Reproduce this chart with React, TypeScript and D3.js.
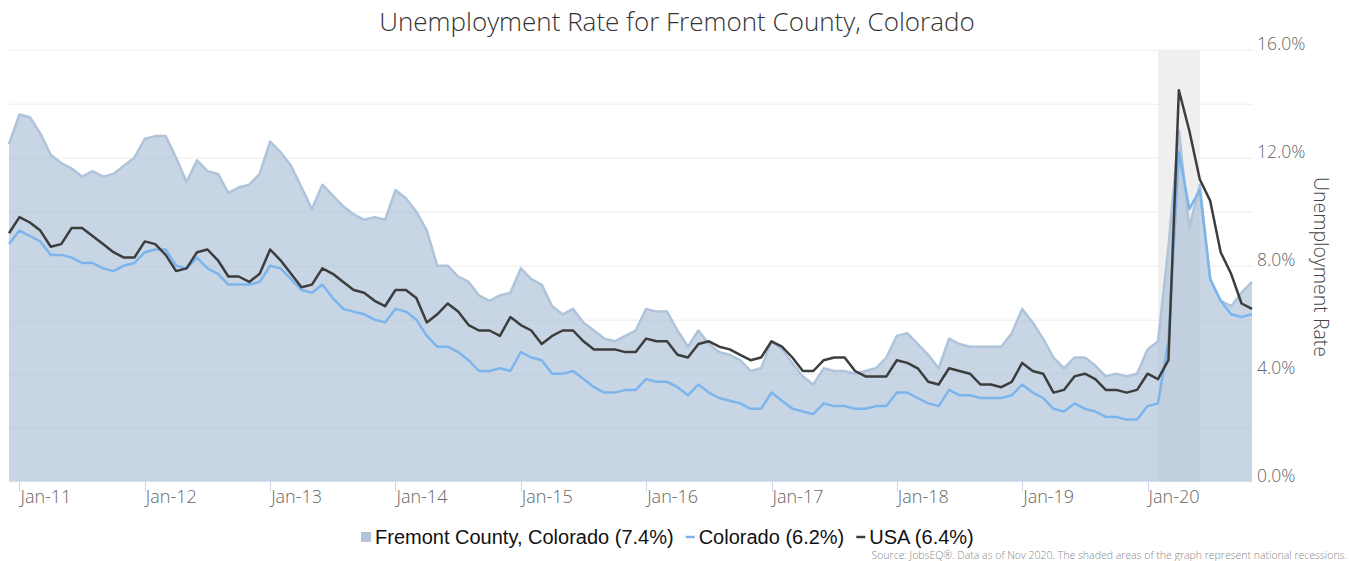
import React, { useEffect, useRef } from "react";
import * as d3 from "d3";

// monthly series, Dec 2010 .. Nov 2020
const months = d3
  .timeMonth.range(new Date(2010, 11, 1), new Date(2020, 11, 1))
  .map(d3.timeFormat("%Y-%m"));

const fremont = [
  12.5, 13.6, 13.5, 12.9, 12.1, 11.8, 11.6, 11.3, 11.5, 11.3, 11.4, 11.7,
  12.0, 12.7, 12.8, 12.8, 12.0, 11.1, 11.9, 11.5, 11.4, 10.7, 10.9, 11.0,
  11.4, 12.6, 12.2, 11.7, 10.9, 10.1, 11.0, 10.6, 10.2, 9.9, 9.7, 9.8,
  9.7, 10.8, 10.5, 10.0, 9.3, 8.0, 8.0, 7.6, 7.4, 6.9, 6.7, 6.9,
  7.0, 7.9, 7.5, 7.3, 6.5, 6.2, 6.4, 5.9, 5.6, 5.3, 5.2, 5.4,
  5.6, 6.4, 6.3, 6.3, 5.6, 5.0, 5.6, 5.1, 4.8, 4.7, 4.5, 4.1,
  4.2, 5.2, 4.9, 4.4, 3.9, 3.6, 4.2, 4.1, 4.1, 4.0, 4.1, 4.2,
  4.6, 5.4, 5.5, 5.1, 4.7, 4.2, 5.3, 5.1, 5.0, 5.0, 5.0, 5.0,
  5.5, 6.4, 5.9, 5.3, 4.6, 4.2, 4.6, 4.6, 4.3, 3.9, 4.0, 3.9,
  4.0, 4.9, 5.2, 8.7, 13.0, 9.4, 11.0, 7.5, 6.7, 6.5, 7.0, 7.4,
];

const colorado = [
  8.8, 9.3, 9.1, 8.9, 8.4, 8.4, 8.3, 8.1, 8.1, 7.9, 7.8, 8.0,
  8.1, 8.5, 8.6, 8.6, 8.0, 7.9, 8.3, 7.9, 7.7, 7.3, 7.3, 7.3,
  7.4, 8.0, 7.9, 7.5, 7.1, 7.0, 7.3, 6.8, 6.4, 6.3, 6.2, 6.0,
  5.9, 6.4, 6.3, 6.0, 5.4, 5.0, 5.0, 4.8, 4.5, 4.1, 4.1, 4.2,
  4.1, 4.8, 4.6, 4.5, 4.0, 4.0, 4.1, 3.8, 3.5, 3.3, 3.3, 3.4,
  3.4, 3.8, 3.7, 3.7, 3.5, 3.2, 3.6, 3.3, 3.1, 3.0, 2.9, 2.7,
  2.7, 3.3, 3.0, 2.7, 2.6, 2.5, 2.9, 2.8, 2.8, 2.7, 2.7, 2.8,
  2.8, 3.3, 3.3, 3.1, 2.9, 2.8, 3.4, 3.2, 3.2, 3.1, 3.1, 3.1,
  3.2, 3.6, 3.3, 3.1, 2.7, 2.6, 2.9, 2.7, 2.6, 2.4, 2.4, 2.3,
  2.3, 2.8, 2.9, 5.2, 12.2, 10.1, 10.8, 7.5, 6.7, 6.2, 6.1, 6.2,
];

const usa = [
  9.2, 9.8, 9.6, 9.3, 8.7, 8.8, 9.4, 9.4, 9.1, 8.8, 8.5, 8.3,
  8.3, 8.9, 8.8, 8.4, 7.8, 7.9, 8.5, 8.6, 8.2, 7.6, 7.6, 7.4,
  7.7, 8.6, 8.2, 7.7, 7.2, 7.3, 7.9, 7.7, 7.4, 7.1, 7.0, 6.7,
  6.5, 7.1, 7.1, 6.8, 5.9, 6.2, 6.6, 6.3, 5.8, 5.6, 5.6, 5.4,
  6.1, 5.8, 5.6, 5.1, 5.4, 5.6, 5.6, 5.2, 4.9, 4.9, 4.9, 4.8,
  4.8, 5.3, 5.2, 5.2, 4.7, 4.6, 5.1, 5.2, 5.0, 4.9, 4.7, 4.5,
  4.6, 5.2, 5.0, 4.6, 4.1, 4.1, 4.5, 4.6, 4.6, 4.1, 3.9, 3.9,
  3.9, 4.5, 4.4, 4.2, 3.7, 3.6, 4.2, 4.1, 4.0, 3.6, 3.6, 3.5,
  3.7, 4.4, 4.1, 4.0, 3.3, 3.4, 3.9, 4.0, 3.8, 3.4, 3.4, 3.3,
  3.4, 4.0, 3.8, 4.5, 14.5, 13.0, 11.2, 10.4, 8.5, 7.7, 6.6, 6.4,
];

const yTicks = [0, 4, 8, 12, 16];
const gridTicks = [2, 4, 6, 8, 10, 12, 14, 16];
const recession = ["2020-02", "2020-06"];

const legendItems = [
  { label: "Fremont County, Colorado (7.4%)", kind: "area" },
  { label: "Colorado (6.2%)", kind: "line", color: "#7cb5ec" },
  { label: "USA (6.4%)", kind: "line", color: "#3d3d3d" },
];

const W = 1349;
const H = 561;
const FONT = "'Open Sans', 'DejaVu Sans', sans-serif";

export default function App() {
  const ref = useRef(null);

  useEffect(() => {
    const root = d3.select(ref.current);
    root.selectAll("*").remove();

    const x = d3.scalePoint().domain(months).range([9, 1252]);
    const y = d3.scaleLinear().domain([0, 16]).range([481.7, 49.7]);

    const svg = root
      .append("svg")
      .attr("width", W)
      .attr("height", H)
      .style("position", "absolute")
      .style("left", 0)
      .style("top", 0)
      .style("font-family", FONT);

    // title
    svg
      .append("text")
      .attr("x", 677)
      .attr("y", 31)
      .attr("text-anchor", "middle")
      .attr("font-size", 26)
      .attr("font-weight", 300)
      .attr("fill", "#333")
      .text("Unemployment Rate for Fremont County, Colorado");

    // grid
    svg
      .append("g")
      .selectAll("line")
      .data(gridTicks)
      .enter()
      .append("line")
      .attr("x1", 9)
      .attr("x2", 1252)
      .attr("y1", (d) => y(d) + 0.5)
      .attr("y2", (d) => y(d) + 0.5)
      .attr("stroke", "#ececec")
      .attr("stroke-width", 1);

    // recession band
    svg
      .append("rect")
      .attr("x", x(recession[0]))
      .attr("y", y(16))
      .attr("width", x(recession[1]) - x(recession[0]))
      .attr("height", y(0) - y(16))
      .attr("fill", "#efefef");

    const idx = (i) => months[i];

    const area = d3
      .area()
      .x((d, i) => x(idx(i)))
      .y0(y(0))
      .y1((d) => y(d));
    const line = d3
      .line()
      .x((d, i) => x(idx(i)))
      .y((d) => y(d));

    svg
      .append("path")
      .datum(fremont)
      .attr("d", area)
      .attr("fill", "#a3b9d3")
      .attr("fill-opacity", 0.6);
    svg
      .append("path")
      .datum(fremont)
      .attr("d", line)
      .attr("fill", "none")
      .attr("stroke", "#afc3da")
      .attr("stroke-width", 2.5)
      .attr("stroke-linejoin", "round");

    svg
      .append("path")
      .datum(colorado)
      .attr("d", line)
      .attr("fill", "none")
      .attr("stroke", "#7cb5ec")
      .attr("stroke-width", 2.5)
      .attr("stroke-linejoin", "round");

    svg
      .append("path")
      .datum(usa)
      .attr("d", line)
      .attr("fill", "none")
      .attr("stroke", "#3d3d3d")
      .attr("stroke-width", 2.5)
      .attr("stroke-linejoin", "round");

    // x axis: ticks on each January, label starts at tick
    const janMonths = months.filter((m) => m.endsWith("-01"));
    const fmt = d3.timeFormat("%b-%y");
    const parse = d3.timeParse("%Y-%m");
    const xg = svg.append("g");
    xg.selectAll("line")
      .data(janMonths)
      .enter()
      .append("line")
      .attr("x1", (d) => Math.round(x(d)) + 0.5)
      .attr("x2", (d) => Math.round(x(d)) + 0.5)
      .attr("y1", 482)
      .attr("y2", 492)
      .attr("stroke", "#ccd6eb");
    xg.selectAll("text")
      .data(janMonths)
      .enter()
      .append("text")
      .attr("x", (d) => x(d) + 1)
      .attr("y", 503)
      .attr("font-size", 18)
      .attr("font-weight", 300)
      .attr("fill", "#666")
      .text((d) => fmt(parse(d)));

    // y axis on the right
    svg
      .append("g")
      .selectAll("text")
      .data(yTicks)
      .enter()
      .append("text")
      .attr("x", 1257)
      .attr("y", (d) => y(d))
      .attr("font-size", 17.5)
      .attr("font-weight", 300)
      .attr("fill", "#666")
      .text((d) => d.toFixed(1) + "%");

    svg
      .append("text")
      .attr("transform", "translate(1314,267) rotate(90)")
      .attr("text-anchor", "middle")
      .attr("font-size", 19.5)
      .attr("font-weight", 300)
      .attr("fill", "#444")
      .text("Unemployment Rate");

    // legend
    const lg = svg
      .append("g")
      .style("font-family", "'Liberation Sans', Arial, sans-serif")
      .attr("font-size", 20);
    let lx = 361;
    legendItems.forEach((item) => {
      if (item.kind === "area") {
        lg.append("rect")
          .attr("x", lx)
          .attr("y", 532)
          .attr("width", 10)
          .attr("height", 10)
          .attr("fill", "#b3c5da");
        lx += 14;
      } else {
        lg.append("line")
          .attr("x1", lx)
          .attr("x2", lx + 9)
          .attr("y1", 537)
          .attr("y2", 537)
          .attr("stroke", item.color)
          .attr("stroke-width", 2.5);
        lx += 13;
      }
      const t = lg
        .append("text")
        .attr("x", lx)
        .attr("y", 543.5)
        .attr("fill", "#111")
        .text(item.label);
      lx += t.node().getComputedTextLength() + 12;
    });

    svg
      .append("text")
      .attr("x", 1347)
      .attr("y", 558.5)
      .attr("text-anchor", "end")
      .attr("font-size", 10.5)
      .attr("font-weight", 300)
      .attr("fill", "#888")
      .text(
        "Source: JobsEQ®. Data as of Nov 2020. The shaded areas of the graph represent national recessions."
      );
  }, []);

  return <div ref={ref}></div>;
}
